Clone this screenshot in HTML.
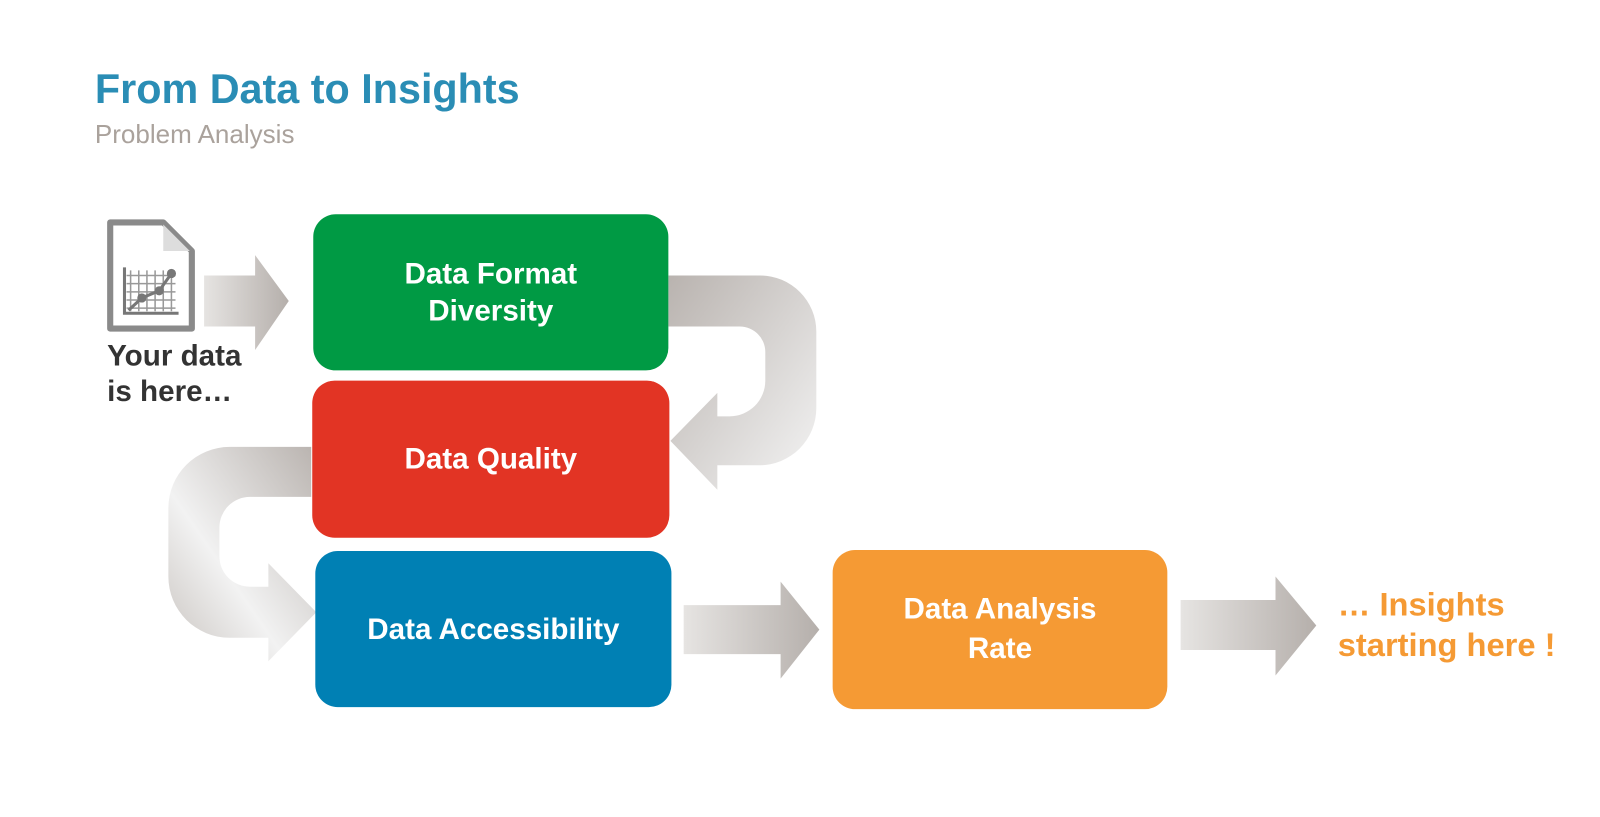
<!DOCTYPE html>
<html><head><style>
body{margin:0;width:1600px;height:817px;background:#fff;overflow:hidden;font-family:"Liberation Sans",Arial,sans-serif}
#w{position:absolute;left:0;top:0;width:1568px;height:801px;transform:scale(1.0204);transform-origin:0 0}
.t{position:absolute;left:93px;top:64px;font-size:40.5px;font-weight:bold;color:#2a8db5}
.s{position:absolute;left:93px;top:118px;font-size:25.5px;color:#aaa29c}
.b{position:absolute;border-radius:22px;color:#fff;font-weight:bold;font-size:29px;display:flex;align-items:center;justify-content:center;text-align:center;line-height:36px}
.y{position:absolute;left:105px;top:332px;font-size:29px;font-weight:bold;color:#333;line-height:34.5px}
.o{position:absolute;left:1311px;top:573px;font-size:32px;font-weight:bold;color:#f59a34;line-height:39.5px}
</style></head><body><div id="w">
<svg width="1568" height="801" style="position:absolute;left:0;top:0">
<defs>
<linearGradient id="g" x1="0" y1="0" x2="1" y2="1"><stop offset="0" stop-color="#b9b3af"/><stop offset="1" stop-color="#f4f4f4"/></linearGradient>
<linearGradient id="h" x1="0" y1="0" x2="1" y2="0"><stop offset="0" stop-color="#e6e4e2"/><stop offset="1" stop-color="#b5afab"/></linearGradient>
<linearGradient id="l" x1="1" y1="0" x2="0" y2="1"><stop offset="0" stop-color="#b9b3af"/><stop offset="0.6" stop-color="#f2f2f2"/><stop offset="1" stop-color="#c8c3bf"/></linearGradient>
</defs>
<path d="M200,270 H250 V250 L283,295 L250,343 V320 H200 Z" fill="url(#h)"/>
<path d="M655,270 H745 A55,55 0 0 1 800,325 V400 A56,56 0 0 1 744,456 H703 V480 L657,432 L703,385 V408 H715 A35,35 0 0 0 750,373 V345 A25,25 0 0 0 725,320 H655 Z" fill="url(#g)"/>
<path d="M305,438 H225 A60,60 0 0 0 165,498 V565 A60,60 0 0 0 225,625 H263 V648 L310,600 L263,552 V575 H245 A30,30 0 0 1 215,545 V517 A30,30 0 0 1 245,487 H305 Z" fill="url(#l)"/>
<path d="M670,593 H765 V570 L803,617 L765,665 V641 H670 Z" fill="url(#h)"/>
<path d="M1157,588 H1250 V565 L1290,613 L1250,662 V637 H1157 Z" fill="url(#h)"/>
<path d="M108,218 H160 L188,246 V322 H108 Z" stroke-linejoin="round" fill="none" stroke="#8a8a8a" stroke-width="6"/>
<path d="M160,220 V246 H186 Z" fill="#ddd"/>
<g stroke="#999" stroke-width="1.5">
<path d="M128,265 V305 M136,265 V305 M144,265 V305 M152,265 V305 M160,265 V305 M168,265 V305 M124,270 H172 M124,278 H172 M124,286 H172 M124,294 H172 M124,302 H172"/>
</g>
<path d="M122,262 V307 H175" stroke="#777" stroke-width="3" fill="none"/>
<path d="M126,304 L139,292 L156,285 L168,268" stroke="#777" stroke-width="3" fill="none"/>
<g fill="#777"><circle cx="139" cy="292" r="4.5"/><circle cx="156" cy="285" r="4.5"/><circle cx="168" cy="268" r="4.5"/></g>
</svg>
<div class="t">From Data to Insights</div>
<div class="s">Problem Analysis</div>
<div class="y">Your data<br>is here…</div>
<div class="b" style="left:307px;top:210px;width:348px;height:153px;background:#009a44">Data Format<br>Diversity</div>
<div class="b" style="left:306px;top:373px;width:350px;height:154px;background:#e23424">Data Quality</div>
<div class="b" style="left:309px;top:540px;width:349px;height:153px;background:#0080b4">Data Accessibility</div>
<div class="b" style="left:816px;top:539px;width:328px;height:156px;background:#f59a34;line-height:39px">Data Analysis<br>Rate</div>
<div class="o">… Insights<br>starting here !</div>
</div></body></html>
